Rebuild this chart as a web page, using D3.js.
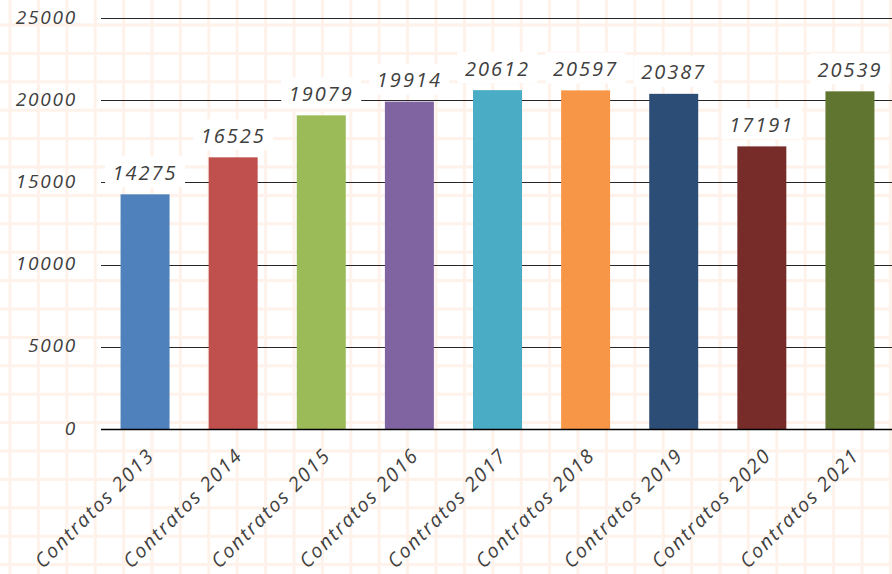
<!DOCTYPE html>
<html>
<head>
<meta charset="utf-8">
<script src="https://cdn.jsdelivr.net/npm/d3@7"></script>
<style>
  html, body { margin: 0; padding: 0; background: #fff; }
  svg { display: block; }
  text { font-family: "Open Sans", "DejaVu Sans", sans-serif; fill: #404040; }
</style>
</head>
<body>
<svg id="chart" width="892" height="574"></svg>
<script>
const categories = ["Contratos 2013","Contratos 2014","Contratos 2015","Contratos 2016","Contratos 2017","Contratos 2018","Contratos 2019","Contratos 2020","Contratos 2021"];
const values = [14275, 16525, 19079, 19914, 20612, 20597, 20387, 17191, 20539];
const colors = ["#4f81bd","#c0504d","#9bbb59","#8064a2","#4bacc6","#f79646","#2c4d75","#772c2a","#5f7530"];
const yTicks = [0, 5000, 10000, 15000, 20000, 25000];

const W = 892, H = 574;
const svg = d3.select("#chart");

// background paper grid
const bg = svg.append("g");
const gridStep = 28.4;
for (let x = 10; x < W + 5; x += gridStep) {
  bg.append("rect").attr("x", x - 1.5).attr("y", 0).attr("width", 3).attr("height", H).attr("fill", "#fef2ea");
}
for (let y = -3.4; y < H + 5; y += gridStep) {
  bg.append("rect").attr("x", 0).attr("y", y - 1.5).attr("width", W).attr("height", 3).attr("fill", "#fef2ea");
}

const x = d3.scaleBand().domain(categories).range([101, 894]).paddingInner(0.444).paddingOuter(0.222);
const y = d3.scaleLinear().domain([0, 25000]).range([429, 18]);

// gridlines
svg.append("g").selectAll("line").data(yTicks.filter(d => d > 0)).join("line")
  .attr("x1", 101).attr("x2", W).attr("y1", d => Math.round(y(d)) + 0.5).attr("y2", d => Math.round(y(d)) + 0.5)
  .attr("stroke", "#262626").attr("stroke-width", 1);

// y axis labels
const yAxis = d3.axisLeft(y).tickValues(yTicks).tickSize(0).tickPadding(0).tickFormat(d3.format("d"));
const ya = svg.append("g").attr("transform", "translate(77,0)").call(yAxis);
ya.select(".domain").remove();
ya.selectAll("text").attr("font-size", 19).attr("letter-spacing", 1.8).attr("font-style", "italic")
  .attr("font-family", "'Open Sans', sans-serif").attr("fill", "#404040")
  .attr("dy", null).attr("y", -2).attr("dominant-baseline", "central");

// bars
svg.append("g").selectAll("rect").data(values).join("rect")
  .attr("x", (d, i) => x(categories[i]))
  .attr("width", x.bandwidth())
  .attr("y", d => y(d))
  .attr("height", d => y(0) - y(d))
  .attr("fill", (d, i) => colors[i]);

// x axis line
svg.append("line").attr("x1", 101).attr("x2", W).attr("y1", 429.5).attr("y2", 429.5)
  .attr("stroke", "#000").attr("stroke-width", 1.3);

// value labels with white boxes
const lg = svg.append("g");
values.forEach((v, i) => {
  const cx = x(categories[i]) + x.bandwidth() / 2;
  const cy = y(v) - 22;
  const g = lg.append("g");
  g.append("rect").attr("x", cx - 40).attr("y", cy - 16).attr("width", 80).attr("height", 31).attr("fill", "#fff");
  g.append("text").attr("x", cx).attr("y", cy).attr("text-anchor", "middle")
    .attr("dominant-baseline", "central").attr("font-size", 20).attr("letter-spacing", 2)
    .attr("font-style", "italic").text(v);
});

// x axis labels
const xa = svg.append("g");
categories.forEach((c, i) => {
  const cx = x(c) + x.bandwidth() / 2;
  xa.append("text")
    .attr("transform", `translate(${cx + 1},${447}) rotate(-45)`)
    .attr("text-anchor", "end").attr("font-size", 19.5).attr("letter-spacing", 1.9)
    .attr("font-style", "italic").attr("dy", "0.7em").text(c);
});
</script>
</body>
</html>
